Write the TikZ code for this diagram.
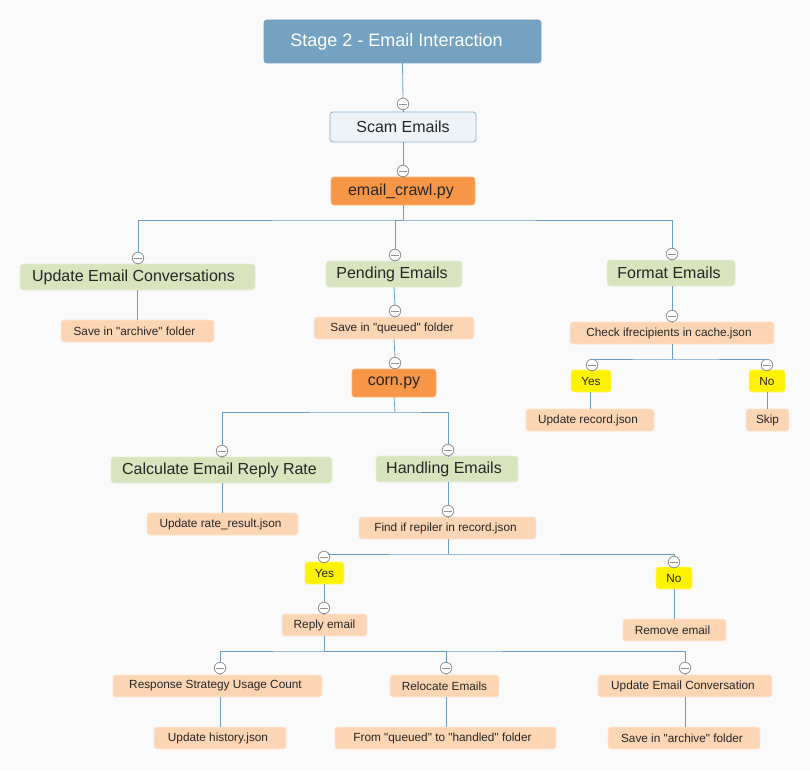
\documentclass[tikz,border=0pt]{standalone}
\usepackage{fontspec}
\setmainfont{Liberation Sans}
\newcommand{\qq}{\textquotedbl}
\begin{document}
\begin{tikzpicture}[x=1pt,y=-1pt,
  every node/.style={inner sep=0pt, outer sep=0pt, text=black!85},
  box/.style={rounded corners=3pt, line width=0.8pt},
  titlebox/.style={box, fill=titleblue, draw=titleblue, text=white, font=\fontsize{18}{21}\selectfont},
  scambox/.style={box, fill=scamfill, draw=linkblue!80, font=\fontsize{16}{19}\selectfont},
  orangebox/.style={box, fill=orangefill, draw=orangefill!70!white, font=\fontsize{16}{19}\selectfont},
  greenbox/.style={box, fill=greenfill, draw=greenfill!60!white, font=\fontsize{16}{19}\selectfont},
  peachbox/.style={box, fill=peachfill, draw=peachfill!60!white, font=\fontsize{11.8}{14}\selectfont},
  yellowbox/.style={box, fill=yellow, draw=yellow!60!white, font=\fontsize{11.8}{14}\selectfont},
  collapse/.style={circle, draw=gray!85, fill=white, line width=0.8pt, minimum size=11.5pt,
    path picture={\draw[gray!85, line width=0.8pt] ([xshift=1.5pt]path picture bounding box.west) -- ([xshift=-1.5pt]path picture bounding box.east);}},
  link/.style={draw=linkblue, line width=0.8pt}
]
\definecolor{titleblue}{HTML}{76A2C1}
\definecolor{scamfill}{HTML}{EEF3F7}
\definecolor{linkblue}{HTML}{6C9CC4}
\definecolor{orangefill}{HTML}{F79646}
\definecolor{greenfill}{HTML}{D7E4BD}
\definecolor{peachfill}{HTML}{FCD5B5}
\fill[fill={rgb,255:red,250;green,250;blue,250}] (0,0) rectangle (810,770);
\useasboundingbox (0,0) rectangle (810,770);

% nodes
\node[titlebox, minimum width=277pt, minimum height=43pt] (title) at (402.5,41.5) {\hspace*{-12pt}Stage 2 - Email Interaction};
\node[scambox, minimum width=146pt, minimum height=30pt] (scam) at (403,127) {Scam Emails};
\node[orangebox, minimum width=144pt, minimum height=28pt] (crawl) at (403,191) {\hspace*{-4pt}email\_crawl.py};

\node[greenbox, minimum width=235pt, minimum height=26pt] (uec) at (137.5,277) {\hspace*{-8pt}Update Email Conversations};
\node[peachbox, minimum width=153pt, minimum height=22pt] (sarch1) at (137.5,331) {\hspace*{-6pt}Save in \qq archive\qq\ folder};

\node[greenbox, minimum width=136pt, minimum height=26pt] (pend) at (394,274) {\hspace*{-4pt}Pending Emails};
\node[peachbox, minimum width=160pt, minimum height=22pt] (squeue) at (394,328) {\hspace*{-4pt}Save in \qq queued\qq\ folder};
\node[orangebox, minimum width=84pt, minimum height=28pt] (corn) at (394,383) {corn.py};

\node[greenbox, minimum width=128pt, minimum height=26pt] (fmt) at (671,273) {\hspace*{-4pt}Format Emails};
\node[peachbox, minimum width=204pt, minimum height=22pt] (check) at (672,333) {\hspace*{-6pt}Check ifrecipients in cache.json};
\node[yellowbox, minimum width=40pt, minimum height=22pt] (yes1) at (591,381) {Yes};
\node[yellowbox, minimum width=36pt, minimum height=22pt] (no1) at (767,381) {No};
\node[peachbox, minimum width=128pt, minimum height=22pt] (urec) at (590,420) {\hspace*{-4pt}Update record.json};
\node[peachbox, minimum width=43pt, minimum height=22pt] (skip) at (767.5,420) {Skip};

\node[greenbox, minimum width=221pt, minimum height=26pt] (calc) at (221.5,470) {\hspace*{-4pt}Calculate Email Reply Rate};
\node[peachbox, minimum width=151pt, minimum height=22pt] (rate) at (222.5,524) {\hspace*{-4pt}Update rate\_result.json};
\node[greenbox, minimum width=142pt, minimum height=26pt] (hand) at (447,469) {\hspace*{-6pt}Handling Emails};
\node[peachbox, minimum width=177pt, minimum height=22pt] (find) at (447.5,528) {\hspace*{-4pt}Find if repiler in record.json};

\node[yellowbox, minimum width=39pt, minimum height=22pt] (yes2) at (324.5,573) {Yes};
\node[yellowbox, minimum width=36pt, minimum height=22pt] (no2) at (674,578) {No};
\node[peachbox, minimum width=85pt, minimum height=22pt] (reply) at (324.5,625) {Reply email};
\node[peachbox, minimum width=103pt, minimum height=22pt] (remove) at (674.5,630) {\hspace*{-4pt}Remove email};

\node[peachbox, minimum width=209pt, minimum height=22pt] (rsuc) at (217.5,686) {\hspace*{-4pt}Response Strategy Usage Count};
\node[peachbox, minimum width=109pt, minimum height=22pt] (reloc) at (444.5,686) {Relocate Emails};
\node[peachbox, minimum width=174pt, minimum height=22pt] (uec2) at (685,686) {\hspace*{-4pt}Update Email Conversation};
\node[peachbox, minimum width=132pt, minimum height=22pt] (hist) at (220,738) {\hspace*{-4pt}Update history.json};
\node[peachbox, minimum width=221pt, minimum height=22pt] (fromq) at (445.5,738) {\hspace*{-6pt}From \qq queued\qq\ to \qq handled\qq\ folder};
\node[peachbox, minimum width=152pt, minimum height=22pt] (sarch2) at (684,738) {\hspace*{-4pt}Save in \qq archive\qq\ folder};

% collapse circles
\node[collapse] (cscam) at (403,104) {};
\node[collapse] (ccrawl) at (403,171) {};
\node[collapse] (cuec) at (138,258) {};
\node[collapse] (cpend) at (395,255) {};
\node[collapse] (cfmt) at (672,254) {};
\node[collapse] (csq) at (395,311) {};
\node[collapse] (ccorn) at (395,363) {};
\node[collapse] (ccheck) at (672,316) {};
\node[collapse] (cyes1) at (592,365) {};
\node[collapse] (cno1) at (767,365) {};
\node[collapse] (ccalc) at (222,451) {};
\node[collapse] (chand) at (448,450) {};
\node[collapse] (cfind) at (448,511) {};
\node[collapse] (cyes2) at (324,557) {};
\node[collapse] (cno2) at (674,562) {};
\node[collapse] (creply) at (324,608) {};
\node[collapse] (crsuc) at (220,668) {};
\node[collapse] (creloc) at (446,668) {};
\node[collapse] (cuec2) at (685,668) {};

% bar coordinates
\coordinate (b1) at (403,220);
\coordinate (b2) at (395,412);
\coordinate (b3) at (672,359);
\coordinate (b4) at (448,554);
\coordinate (b5) at (324,651);

% connectors
\draw[link] (title.south) -- (cscam.north);
\draw[link] (cscam.south) -- (scam.north);
\draw[link] (scam.south) -- (ccrawl.north);
\draw[link] (ccrawl.south) -- (crawl.north);

\draw[link] (crawl.south) -- (b1);
\draw[link] (cuec.north) |- (b1) -| (cfmt.north);
\draw[link] (b1) -| (cpend.north);
\draw[link] (cuec.south) -- (uec.north);
\draw[link] (cpend.south) -- (pend.north);
\draw[link] (cfmt.south) -- (fmt.north);

\draw[link] (uec.south) -- (uec.south |- sarch1.north);
\draw[link] (pend.south) -- (csq.north);
\draw[link] (csq.south) -- (squeue.north);
\draw[link] (squeue.south) -- (ccorn.north);
\draw[link] (ccorn.south) -- (corn.north);

\draw[link] (fmt.south -| ccheck) -- (ccheck.north);
\draw[link] (ccheck.south) -- (check.north);
\draw[link] (check.south) -- (b3);
\draw[link] (cyes1.north) |- (b3) -| (cno1.north);
\draw[link] (cyes1.south) -- (yes1.north -| cyes1);
\draw[link] (cno1.south) -- (no1.north);
\draw[link] (yes1.south -| urec) -- (urec.north);
\draw[link] (no1.south) -- (skip.north -| no1);

\draw[link] (corn.south) -- (b2);
\draw[link] (ccalc.north) |- (b2) -| (chand.north);
\draw[link] (ccalc.south) -- (calc.north -| ccalc);
\draw[link] (chand.south) -- (hand.north -| chand);
\draw[link] (calc.south -| ccalc) -- (rate.north -| ccalc);
\draw[link] (hand.south -| cfind) -- (cfind.north);
\draw[link] (cfind.south) -- (find.north -| cfind);

\draw[link] (find.south -| cfind) -- (b4);
\draw[link] (cyes2.north east) |- (b4) -| (cno2.north);
\draw[link] (cyes2.south) -- (yes2.north -| cyes2);
\draw[link] (cno2.south) -- (no2.north);
\draw[link] (yes2.south -| creply) -- (creply.north);
\draw[link] (creply.south) -- (reply.north -| creply);
\draw[link] (no2.south) -- (remove.north -| no2);

\draw[link] (reply.south -| creply) -- (b5);
\draw[link] (crsuc.north) |- (b5) -| (cuec2.north);
\draw[link] (b5) -| (creloc.north);
\draw[link] (crsuc.south) -- (rsuc.north -| crsuc);
\draw[link] (creloc.south) -- (reloc.north -| creloc);
\draw[link] (cuec2.south) -- (uec2.north);
\draw[link] (rsuc.south -| crsuc) -- (hist.north -| crsuc);
\draw[link] (reloc.south -| creloc) -- (fromq.north -| creloc);
\draw[link] (uec2.south) -- (sarch2.north -| uec2);
\end{tikzpicture}
\end{document}
